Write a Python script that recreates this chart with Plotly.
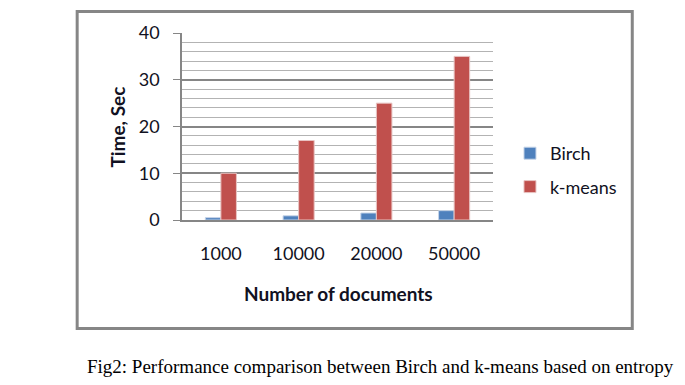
import plotly.graph_objects as go

categories = ["1000", "10000", "20000", "50000"]
birch = [0.5, 0.9, 1.5, 2.0]
kmeans = [10, 17, 25, 35]
series_names = ["Birch", "k-means"]

W, H = 685, 385
PL, PR, PT, PB = 181.5, 493, 33, 220  # plot area in px


def px_x(x):
    return (x - PL) / (PR - PL)


def px_y(y):
    return (PB - y) / (PB - PT)


FONT = "Lato, Calibri, Carlito, sans-serif"
TXT = "#111122"

fig = go.Figure()
fig.add_trace(go.Bar(x=categories, y=birch, name=series_names[0], legendgroup="a",
                     marker=dict(color="#4F81BD", line=dict(color="#C6D4E8", width=1))))
fig.add_trace(go.Bar(x=categories, y=kmeans, name=series_names[1], legendgroup="b",
                     marker=dict(color="#C0504D", line=dict(color="#E8C4C3", width=1))))

fig.update_layout(
    width=W, height=H,
    margin=dict(l=PL, r=W - PR, t=PT, b=H - PB, autoexpand=False),
    paper_bgcolor="white", plot_bgcolor="white",
    barmode="group", bargap=0.6, bargroupgap=0,
    font=dict(family=FONT, size=18, color=TXT),
    showlegend=True,
    legend=dict(x=px_x(510), y=px_y(135), xanchor="left", yanchor="top",
                font=dict(family=FONT, size=18, color=TXT),
                tracegroupgap=7, traceorder="grouped",
                bgcolor="rgba(0,0,0,0)"),
    xaxis=dict(type="category", showgrid=False, showline=True, linecolor="#868686",
               linewidth=1.5, ticks="", ticklabelstandoff=17,
               tickfont=dict(size=18, color=TXT)),
    yaxis=dict(range=[0, 40], tickmode="linear", tick0=0, dtick=10,
               showline=True, linecolor="#868686",
               linewidth=1.5, ticks="outside", ticklen=7, tickcolor="#868686",
               tickfont=dict(size=18, color=TXT), ticklabelstandoff=10,
               showgrid=True, gridcolor="#868686", gridwidth=1.5, zeroline=False,
               minor=dict(tickmode="linear", tick0=0, dtick=2, ticks="", showgrid=True,
                          gridcolor="#B3B3B3", gridwidth=1)),
)

# outer frame
fig.add_shape(type="rect", xref="paper", yref="paper",
              x0=px_x(76.5), x1=px_x(632.5), y0=px_y(328.5), y1=px_y(11.5),
              line=dict(color="#868686", width=3), fillcolor="rgba(0,0,0,0)", layer="below")

# axis titles
fig.add_annotation(text="<b>Time, Sec</b>", textangle=-90, xref="paper", yref="paper",
                   x=px_x(116), y=px_y(127), xanchor="center", yanchor="middle",
                   showarrow=False, font=dict(family=FONT, size=19, color=TXT))
fig.add_annotation(text="<b>Number of documents</b>", xref="paper", yref="paper",
                   x=px_x(338), y=px_y(293), xanchor="center", yanchor="middle",
                   showarrow=False, font=dict(family=FONT, size=19, color=TXT))
# caption
fig.add_annotation(text="Fig2: Performance comparison between Birch and k-means based on entropy",
                   xref="paper", yref="paper", x=px_x(380), y=px_y(366),
                   xanchor="center", yanchor="middle", showarrow=False,
                   font=dict(family="Liberation Serif, Times New Roman, serif", size=19, color="#000000"))

fig.write_html("out.html")
